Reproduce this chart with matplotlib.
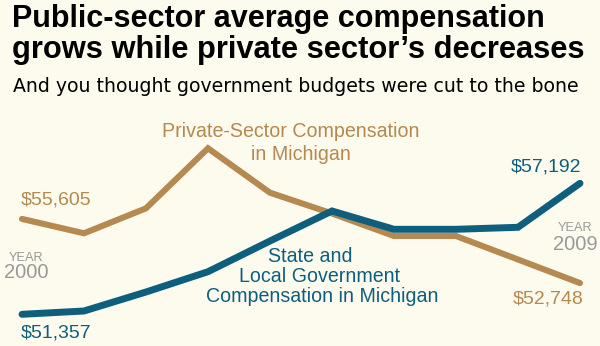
import matplotlib.pyplot as plt

years = list(range(2000, 2010))
private_comp = [55605, 54965, 56078, 58751, 56773, 55847, 54844, 54844, 53798, 52748]
public_comp = [51357, 51504, 52350, 53254, 54622, 55958, 55143, 55143, 55232, 57192]

bg = "#fdfbee"
tan = "#b5894f"
teal = "#0e5f7e"
grey = "#999999"

plt.rcParams['font.family'] = ['Liberation Sans', 'DejaVu Sans']

fig = plt.figure(figsize=(6, 3.46), dpi=100, facecolor=bg)
ax = fig.add_axes([0, 0, 1, 1])
ax.set_facecolor(bg)
ax.set_xlim(1999.645, 2009.323)
ax.set_ylim(49945, 65356)
ax.axis("off")

ax.plot(years, private_comp, color=tan, lw=4.4, solid_capstyle="round",
        solid_joinstyle="miter")
ax.plot(years, public_comp, color=teal, lw=5.0, solid_capstyle="round",
        solid_joinstyle="miter")


def px(x, y):
    return x / 600, 1 - y / 346


# headline + subhead
fig.text(*px(12, 27), "Public-sector average compensation", fontsize=22,
         fontweight="bold", va="baseline", ha="left")
fig.text(*px(12, 58), "grows while private sector\u2019s decreases", fontsize=22.2,
         fontweight="bold", va="baseline", ha="left")
fig.text(*px(13, 92), "And you thought government budgets were cut to the bone",
         fontsize=13.6, va="baseline", ha="left", family=["DejaVu Sans"])

# end values
fig.text(*px(21, 200), "${:,}".format(private_comp[0]), color=tan, fontsize=14,
         va="center", ha="left")
fig.text(*px(21, 333), "${:,}".format(public_comp[0]), color=teal, fontsize=14,
         va="center", ha="left")
fig.text(*px(581, 167), "${:,}".format(public_comp[-1]), color=teal, fontsize=14,
         va="center", ha="right")
fig.text(*px(583, 299), "${:,}".format(private_comp[-1]), color=tan, fontsize=14,
         va="center", ha="right")

# year markers
fig.text(*px(26, 258), "YEAR", color=grey, fontsize=9.2, va="center", ha="center")
fig.text(*px(26, 273), str(years[0]), color=grey, fontsize=14.5, va="center", ha="center")
fig.text(*px(575, 228), "YEAR", color=grey, fontsize=9.2, va="center", ha="center")
fig.text(*px(575, 245), str(years[-1]), color=grey, fontsize=14.5, va="center", ha="center")

# series labels
lab = 14.1
fig.text(*px(291, 132), "Private-Sector Compensation", color=tan, fontsize=lab,
         va="center", ha="center")
fig.text(*px(301, 155), "in Michigan", color=tan, fontsize=lab,
         va="center", ha="center")
fig.text(*px(310, 257), "State and", color=teal, fontsize=lab, va="center", ha="center")
fig.text(*px(320, 277), "Local Government", color=teal, fontsize=lab,
         va="center", ha="center")
fig.text(*px(322, 297), "Compensation in Michigan", color=teal, fontsize=lab,
         va="center", ha="center")

fig.savefig("out.png", dpi=100, facecolor=bg)
